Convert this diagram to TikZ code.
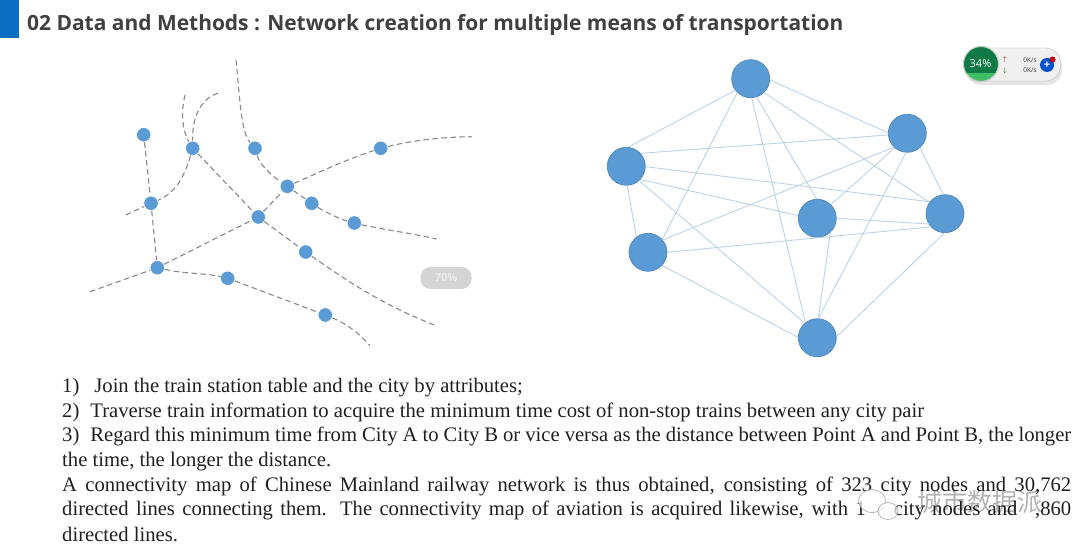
\documentclass[tikz,border=0pt]{standalone}
\usepackage{xcolor}
\usepackage{fontspec}
\setmainfont{Liberation Serif}
\setsansfont{Open Sans}
\newfontfamily\cjkfont{Noto Sans CJK SC}
\usetikzlibrary{arrows.meta, positioning, shapes.geometric}
\definecolor{slideblue}{HTML}{0A6FC2}
\definecolor{dotblue}{HTML}{5B9BD5}
\definecolor{rimblue}{HTML}{4F86B8}
\definecolor{edgeblue}{HTML}{BCD2E6}
\definecolor{roadgray}{HTML}{83898F}
\definecolor{titlegray}{HTML}{404040}
\definecolor{gaugegreen}{HTML}{0F7A45}
\definecolor{gaugelight}{HTML}{3FBF63}
\tikzset{
    stopdot/.style={circle, fill=dotblue, draw=white, line width=0.7pt, minimum size=14.5pt, inner sep=0pt},
    citydot/.style={circle, fill=dotblue, draw=rimblue, line width=0.7pt, minimum size=38pt, inner sep=0pt},
    road/.style={draw=roadgray, line width=1.1pt, dash pattern=on 5.5pt off 3.5pt},
    link/.style={draw=edgeblue, line width=0.9pt},
    bodyline/.style={anchor=west, inner sep=0pt, text=black!88, font=\fontsize{20.65}{24}\selectfont},
}
\begin{document}
\begin{tikzpicture}[x=1pt, y=-1pt]
    \useasboundingbox (0, 0) rectangle (1080, 553);

    % Title bar
    \fill[slideblue] (0, 0) rectangle (18.5, 38.5);
    \node[anchor=west, inner sep=0pt, text=titlegray, font=\sffamily\bfseries\fontsize{20.95}{24}\selectfont] (title) at (27, 25)
        {02 Data and Methods : Network creation for multiple means of transportation};

    % Road map: stops
    \node[stopdot] (stopa) at (143.7, 134.7) {};
    \node[stopdot] (stopb) at (192.7, 148.3) {};
    \node[stopdot] (stopc) at (255, 148.3) {};
    \node[stopdot] (stopd) at (380.7, 148.3) {};
    \node[stopdot] (stope) at (287.3, 186.3) {};
    \node[stopdot] (stopf) at (311.7, 203.3) {};
    \node[stopdot] (stopg) at (354.3, 223) {};
    \node[stopdot] (stoph) at (151, 203.3) {};
    \node[stopdot] (stopi) at (258.3, 217) {};
    \node[stopdot] (stopj) at (305.7, 252) {};
    \node[stopdot] (stopk) at (157.3, 267.7) {};
    \node[stopdot] (stopl) at (227.7, 278.3) {};
    \node[stopdot] (stopm) at (325.3, 315) {};

    % Road map: free ends
    \coordinate (enda) at (236, 60);
    \coordinate (endb) at (185, 95);
    \coordinate (endc) at (218, 93);
    \coordinate (endd) at (471.7, 136.7);
    \coordinate (ende) at (436.7, 239);
    \coordinate (endf) at (436.7, 326);
    \coordinate (endg) at (370, 345.7);
    \coordinate (endh) at (125.7, 215);
    \coordinate (endi) at (90, 291.7);

    % Road map: lines
    \draw[road] (enda) .. controls (240, 100) and (241, 132) .. (stopc);
    \draw[road] (endb) .. controls (181, 112) and (182, 130) .. (stopb);
    \draw[road] (endc) .. controls (204, 98) and (192, 112) .. (stopb);
    \draw[road] (stopb) .. controls (184, 178) and (175, 193) .. (stoph);
    \draw[road] (stopc) .. controls (260, 165) and (272, 176) .. (stope);
    \draw[road] (stope) .. controls (320, 172) and (345, 160) .. (stopd);
    \draw[road] (stopd) .. controls (410, 141) and (440, 137) .. (endd);
    \draw[road] (stopa) -- (stoph);
    \draw[road] (stoph) -- (stopk);
    \draw[road] (endh) -- (stoph);
    \draw[road] (endi) -- (stopk);
    \draw[road] (stopb) -- (stopi);
    \draw[road] (stopi) -- (stope);
    \draw[road] (stope) -- (stopf);
    \draw[road] (stopf) .. controls (325, 212) and (340, 219) .. (stopg);
    \draw[road] (stopg) .. controls (380, 229) and (410, 233) .. (ende);
    \draw[road] (stopk) -- (stopi);
    \draw[road] (stopi) -- (stopj);
    \draw[road] (stopj) .. controls (350, 283) and (385, 306) .. (endf);
    \draw[road] (stopk) .. controls (185, 274) and (205, 273) .. (stopl);
    \draw[road] (stopl) -- (stopm);
    \draw[road] (stopm) .. controls (345, 323) and (358, 332) .. (endg);

    % Percent badge
    \node[fill=black!17, rounded corners=10pt, minimum width=51pt, minimum height=22pt, inner sep=0pt,
          text=black!8, font=\sffamily\bfseries\fontsize{11}{12}\selectfont] (badge) at (446, 278) {70\%};

    % City graph
    \node[citydot] (cityn) at (750.7, 78.7) {};
    \node[citydot] (cityne) at (907.3, 133.3) {};
    \node[citydot] (cityw) at (626.3, 166.3) {};
    \node[citydot] (citym) at (817.3, 218.3) {};
    \node[citydot] (citye) at (945, 213.7) {};
    \node[citydot] (citysw) at (648, 252.3) {};
    \node[citydot] (citys) at (817.3, 337.7) {};

    \foreach \from/\fromang/\to/\toang in {cityn/217/cityw/84, cityn/226/citysw/42, cityn/273/citys/128,
        cityn/288/citym/92, cityn/314/citye/144, cityn/356/cityne/178,
        cityne/185/cityw/42, cityne/226/citysw/40, cityne/229/citym/45, cityne/266/citys/87, cityne/311/citye/95,
        cityw/359/citye/142, cityw/317/citym/172, cityw/273/citysw/127, cityw/312/citys/131,
        citysw/0/citye/223, citysw/317/citys/179, citym/0/citye/212, citym/312/citys/87, citye/268/citys/3}
        \draw[link] (\from.\fromang) -- (\to.\toang);

    % Speed widget
    \fill[black!10, rounded corners=15pt] (966, 51) rectangle (1062, 85);
    \node[fill=black!6, draw=black!25, rounded corners=15pt, minimum width=95pt, minimum height=33pt, inner sep=0pt] (pill) at (1013, 64.5) {};
    \node[circle, fill=gaugelight, draw=black!22, line width=1.2pt, minimum size=35pt, inner sep=0pt] (gauge) at (981, 64) {};
    \begin{scope}
        \clip (gauge.center) circle[radius=16.8pt];
        \fill[gaugegreen] (960, 45) rectangle (1000, 73);
    \end{scope}
    \node[text=white, inner sep=0pt, font=\sffamily\fontsize{11}{12}\selectfont] (gaugetext) at (980.5, 63.5) {34\%};
    \node[inner sep=0pt, text=red!65!black, font=\fontsize{7}{7}\selectfont] (uparrow) at (1005, 59.5) {$\uparrow$};
    \node[inner sep=0pt, text=green!45!black, font=\fontsize{7}{7}\selectfont] (downarrow) at (1005, 70.5) {$\downarrow$};
    \node[inner sep=0pt, text=black!80, font=\sffamily\fontsize{6.5}{7}\selectfont] (upspeed) at (1030, 60) {0K/s};
    \node[inner sep=0pt, text=black!80, font=\sffamily\fontsize{6.5}{7}\selectfont] (downspeed) at (1030, 70.5) {0K/s};
    \node[circle, fill=blue!60!cyan!80!black, minimum size=14pt, inner sep=0pt, text=white, font=\sffamily\bfseries\fontsize{11}{11}\selectfont] (plus) at (1047, 65) {+};
    \node[circle, fill=red!80!black, minimum size=6pt, inner sep=0pt] (notify) at (1052.5, 59.5) {};

    % Body text
    \node[bodyline] (lineone) at (62, 387.5) {1)\hspace*{15pt}Join the train station table and the city by attributes;};
    \node[bodyline] (linetwo) at (62, 412.5) {2)\hspace*{11pt}Traverse train information to acquire the minimum time cost of non-stop trains between any city pair};
    \node[bodyline] (linethree) at (62, 436.5) {\makebox[1009pt][s]{3)\hspace*{11pt}Regard this minimum time from City A to City B or vice versa as the distance between Point A and Point B, the longer}};
    \node[bodyline] (linefour) at (62, 461.5) {the time, the longer the distance.};
    \node[bodyline] (linefive) at (62, 486.5) {\makebox[1009pt][s]{A connectivity map of Chinese Mainland railway network is thus obtained, consisting of 323 city nodes and 30,762}};
    \node[bodyline] (linesix) at (62, 510.5) {\makebox[1009pt][s]{directed lines connecting them. The connectivity map of aviation is acquired likewise, with 1\phantom{48} city nodes and \phantom{5},860}};
    \node[bodyline] (lineseven) at (62, 534.5) {directed lines.};

    % Watermark
    \node[ellipse, fill=white, opacity=0.7, draw=black!40, line width=0.8pt, minimum width=27pt, minimum height=23pt, inner sep=0pt] (wechata) at (872, 501) {};
    \node[ellipse, fill=white, opacity=0.7, draw=black!40, line width=0.8pt, minimum width=20pt, minimum height=17pt, inner sep=0pt] (wechatb) at (888, 511) {};
    \node[anchor=west, inner sep=0pt, text=black, opacity=0.3, font=\cjkfont\fontsize{25}{28}\selectfont] (mark) at (917, 502) {城市数据派};
\end{tikzpicture}
\end{document}
